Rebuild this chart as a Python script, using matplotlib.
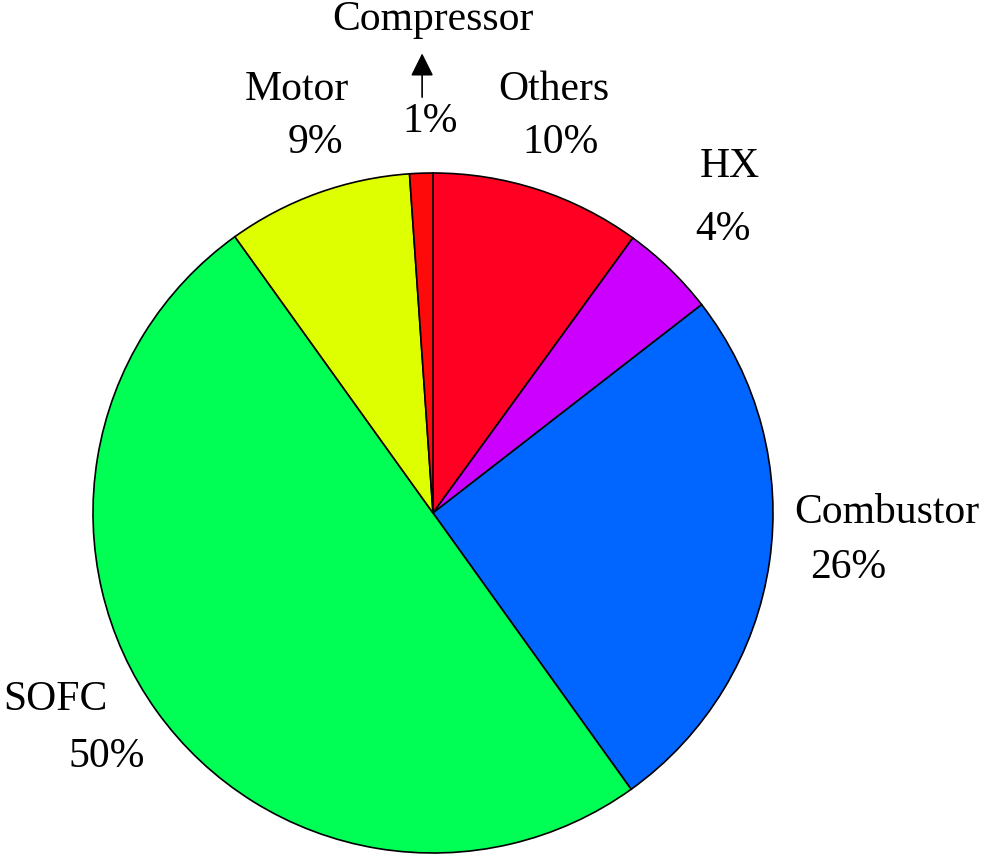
import matplotlib.pyplot as plt

# data, clockwise from 12 o'clock
names = ["Others", "HX", "Combustor", "SOFC", "Motor", "Compressor"]
shares = [10.0, 4.5, 25.6, 50.0, 8.8, 1.1]
pct_text = ["10%", "4%", "26%", "50%", "9%", "1%"]
colors = ["#FF0022", "#CC00FF", "#0066FF", "#00FF55", "#DDFF00", "#FF0A0A"]

plt.rcParams['font.family'] = ['Liberation Serif', 'DejaVu Serif']

fig = plt.figure(figsize=(9.86, 8.58), dpi=100)
ax = fig.add_axes([93 / 986, 5 / 858, 680 / 986, 680 / 858])

ax.pie(shares, colors=colors, startangle=90, counterclock=False, radius=1,
       wedgeprops=dict(edgecolor="black", linewidth=1.2))
ax.set_xlim(-1, 1)
ax.set_ylim(-1, 1)
ax.set_aspect("auto")
ax.axis("off")

fs = 30
# label positions in pie units (name, percent)
pos = {
    "Others": ((0.356, 1.244), (0.374, 1.088)),
    "HX": ((0.874, 1.018), (0.853, 0.832)),
    "Combustor": ((1.335, 0.0), (1.22, -0.162)),
    "SOFC": ((-1.112, -0.55), (-0.959, -0.718)),
    "Motor": ((-0.40, 1.244), (-0.347, 1.088)),
    "Compressor": ((0.0, 1.45), (-0.01, 1.15)),
}
for n, p in zip(names, pct_text):
    (nx, ny), (px, py) = pos[n]
    ax.text(nx, ny, n, fontsize=fs, ha="center", va="center", clip_on=False)
    ax.text(px, py, p, fontsize=fs, ha="center", va="center", clip_on=False)

# arrow for the small compressor slice
ax.annotate("", xy=(-0.032, 1.36), xytext=(-0.032, 1.215),
            arrowprops=dict(arrowstyle="-|>", color="black", lw=1.2,
                            mutation_scale=35), annotation_clip=False)

fig.savefig("out.png", dpi=100)
